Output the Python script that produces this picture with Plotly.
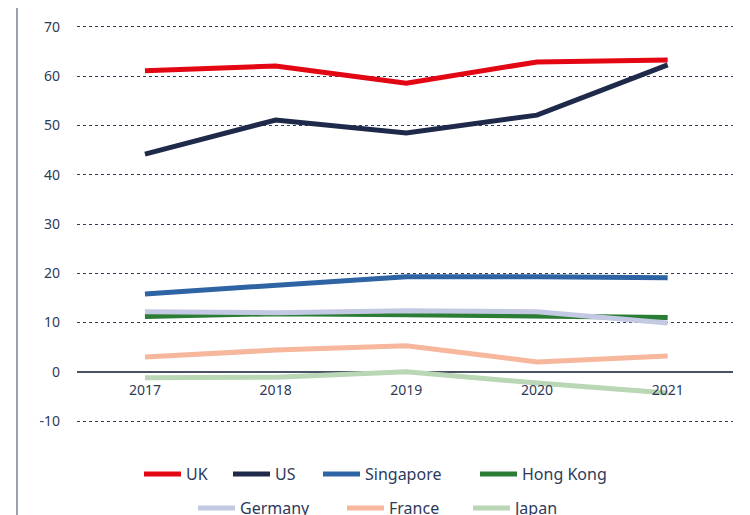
import plotly.graph_objects as go

years = [2017, 2018, 2019, 2020, 2021]

uk = [61.1, 62.1, 58.6, 62.9, 63.3]
us = [44.2, 51.1, 48.5, 52.1, 62.3]
singapore = [15.8, 17.6, 19.3, 19.3, 19.1]
hong_kong = [11.2, 11.8, 11.6, 11.4, 11.0]
germany = [12.2, 12.0, 12.4, 12.2, 9.9]
france = [3.0, 4.4, 5.3, 2.0, 3.2]
japan = [-1.2, -1.1, 0.0, -2.3, -4.3]

y_ticks = [-10, 0, 10, 20, 30, 40, 50, 60, 70]
y_labels = ["-10", "0", "10", "20", "30", "40", "50", "60", "70"]

TEXT = "#2d3a5a"
Y_RANGE = [-14.87, 73.45]
W, H = 750, 515
L, R, T, B = 69, 25, 2, 78
PW, PH = W - L - R, H - T - B

# name, values, colour, legend swatch start x / row centre y (figure px)
series = [
    ("UK", uk, "#e30613", 136, 466),
    ("US", us, "#1f2a4a", 225, 466),
    ("Singapore", singapore, "#2e64a3", 315, 466),
    ("Hong Kong", hong_kong, "#2b7d35", 472, 466),
    ("Germany", germany, "#c3c9e3", 190, 500),
    ("France", france, "#f6b79d", 339, 500),
    ("Japan", japan, "#b9d6b5", 465, 500),
]

fig = go.Figure()
legends = {}
for i, (name, vals, color, px, py) in enumerate(series):
    key = "legend" if i == 0 else "legend%d" % (i + 1)
    fig.add_trace(go.Scatter(x=years, y=vals, name=name, mode="lines",
                             line=dict(color=color, width=5),
                             legend=key))
    legends[key] = dict(x=(px - 5 - L) / PW, xanchor="left",
                        y=(H - B - py) / PH, yanchor="middle",
                        font=dict(size=16, color=TEXT), itemwidth=37,
                        bgcolor="rgba(0,0,0,0)")

# x axis sits on the zero line
zero_pos = (0 - Y_RANGE[0]) / (Y_RANGE[1] - Y_RANGE[0])

fig.update_layout(
    width=W, height=H, showlegend=True,
    margin=dict(l=L, r=R, t=T, b=B, autoexpand=False),
    plot_bgcolor="white", paper_bgcolor="white",
    font=dict(family="Noto Sans", color=TEXT, size=14),
    shapes=[dict(type="line", xref="paper", yref="paper",
                 x0=(9 - L) / PW, x1=(9 - L) / PW, y0=-0.2, y1=1.1,
                 line=dict(color="#9aa0ad", width=2))],
    **legends,
)

fig.update_xaxes(range=[2016.48, 2021.5], tickvals=years, showgrid=False,
                 anchor="free", position=zero_pos, showline=False,
                 zeroline=False, tickfont=dict(size=14, color=TEXT),
                 ticklabelstandoff=8)
fig.update_yaxes(range=Y_RANGE, tickvals=y_ticks, ticktext=y_labels,
                 showgrid=True, gridcolor=TEXT, griddash="dot", gridwidth=1,
                 zeroline=True, zerolinecolor="#4a5266", zerolinewidth=1.5,
                 showline=False, tickfont=dict(size=14, color=TEXT),
                 ticklabelstandoff=16)

fig.write_html("out.html")
